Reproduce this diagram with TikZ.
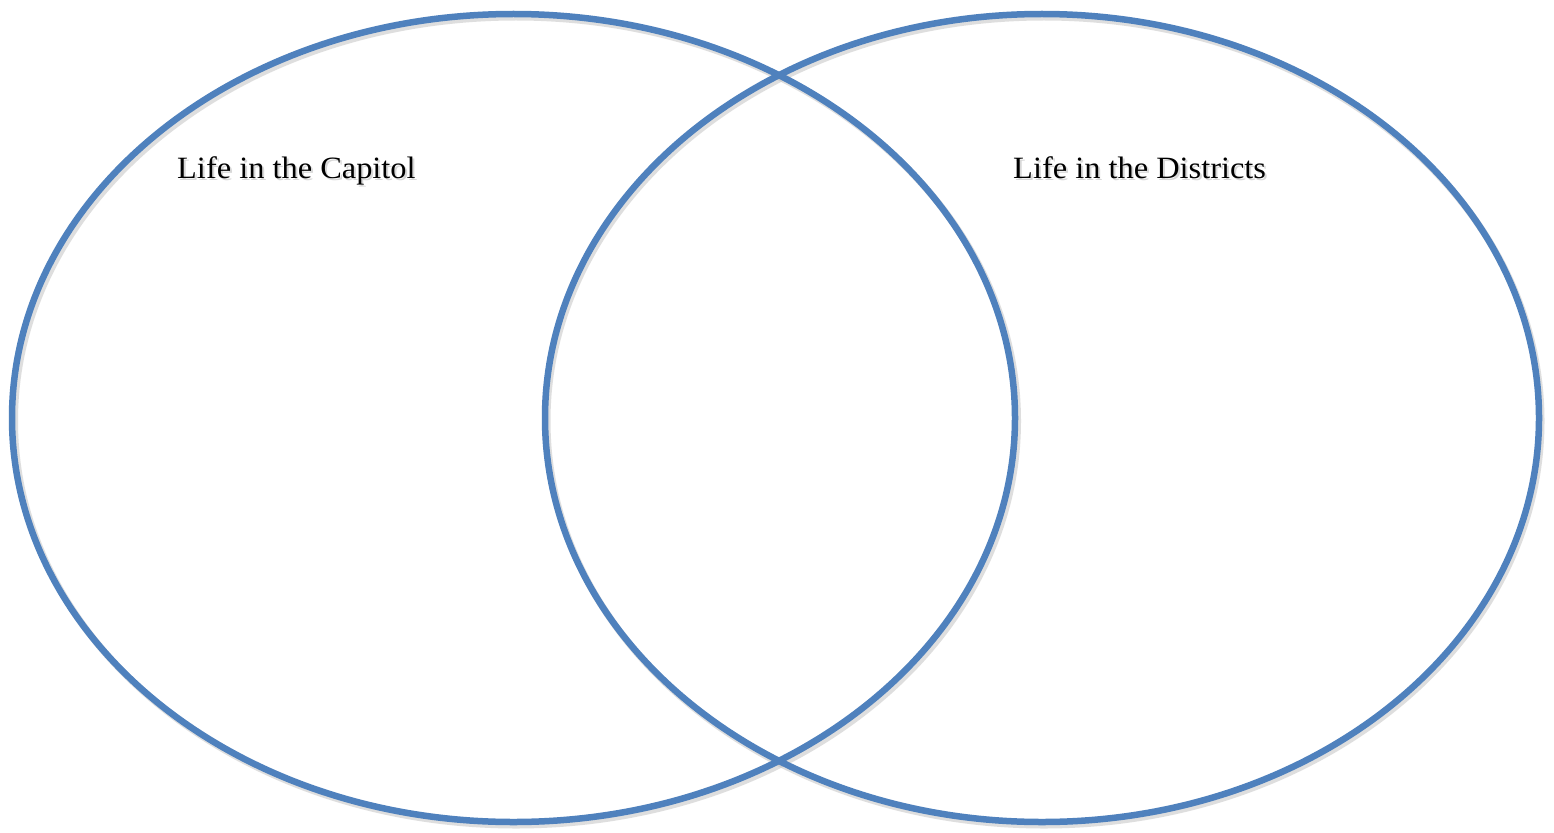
\documentclass[tikz,border=0pt]{standalone}
\usepackage{fontspec}
\setmainfont{Liberation Serif}
\newfontfamily\labelfont[FakeStretch=1.045]{Liberation Serif}
\definecolor{vennblue}{HTML}{4F81BD}
\begin{document}
\begin{tikzpicture}[x=1pt,y=-1pt,
  ring/.style={draw=vennblue, line width=6.5pt},
  ringshadow/.style={draw=black!25, line width=7pt, opacity=0.5},
  label/.style={font=\labelfont\fontsize{31}{36}\selectfont, text=black, inner sep=0pt, anchor=base west},
  labelshadow/.style={font=\labelfont\fontsize{31}{36}\selectfont, text=black!30, inner sep=0pt, anchor=base west, opacity=0.5}]
\useasboundingbox[fill=white] (0,0) rectangle (1554,832);
% shadows
\draw[ringshadow] (516,421) ellipse [x radius=501.5, y radius=404];
\draw[ringshadow] (1044,421) ellipse [x radius=497, y radius=404];
% circles
\draw[ring] (513.5,418) ellipse [x radius=501.5, y radius=404];
\draw[ring] (1042,418) ellipse [x radius=497, y radius=404];
\coordinate (lc) at (513.5,418);
\coordinate (rc) at (1042,418);
% labels
\node[labelshadow] at (179,180) {Life in the Capitol};
\node[labelshadow] at (1015,180) {Life in the Districts};
\node[label] (capitol) at (177,178) {Life in the Capitol};
\node[label] (districts) at (1013,178) {Life in the Districts};
\end{tikzpicture}
\end{document}
